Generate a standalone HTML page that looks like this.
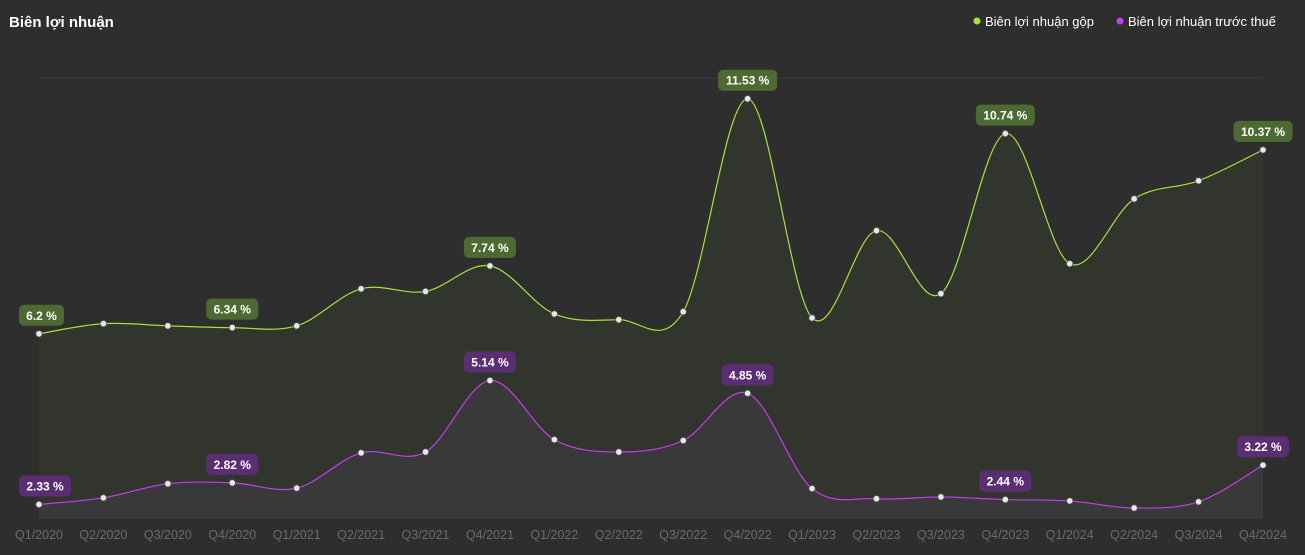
<!DOCTYPE html>
<html><head><meta charset="utf-8">
<style>
html,body{margin:0;padding:0;background:#2e2e2e;}
body{width:1305px;height:550px;overflow:hidden;font-family:"Liberation Sans","Noto Sans CJK SC",sans-serif;}
svg text{font-family:"Liberation Sans","Noto Sans CJK SC",sans-serif;}
</style></head>
<body>
<svg id="chart" width="1305" height="550" viewBox="0 0 1305 550" xmlns="http://www.w3.org/2000/svg">
<rect width="1305" height="550" fill="#2e2e2e"/>
<text x="9" y="27" fill="#ffffff" font-size="15" font-weight="bold">Biên lợi nhuận</text>
<g>
<circle cx="977" cy="21" r="3.5" fill="#a6e23a"/>
<text x="985" y="26" fill="#ffffff" font-size="13">Biên lợi nhuận gộp</text>
<circle cx="1120" cy="21" r="3.5" fill="#c63cf0"/>
<text x="1128" y="26" fill="#ffffff" font-size="13">Biên lợi nhuận trước thuế</text>
</g>
<line x1="39" y1="78" x2="1263" y2="78" stroke="#3c3c3c" stroke-width="1"/>
<g id="plot"></g>
</svg>
<script>
const categories = ["Q1/2020","Q2/2020","Q3/2020","Q4/2020","Q1/2021","Q2/2021","Q3/2021","Q4/2021","Q1/2022","Q2/2022","Q3/2022","Q4/2022","Q1/2023","Q2/2023","Q3/2023","Q4/2023","Q1/2024","Q2/2024","Q3/2024","Q4/2024"];
const grossMargin = [6.2,6.43,6.38,6.34,6.38,7.22,7.16,7.74,6.65,6.52,6.70,11.53,6.56,8.54,7.11,10.74,7.79,9.26,9.67,10.37];
const pretaxMargin = [2.33,2.48,2.80,2.82,2.70,3.50,3.52,5.14,3.80,3.52,3.78,4.85,2.69,2.46,2.50,2.44,2.41,2.25,2.39,3.22];
const labeledIdx = [0,3,7,11,15,19];
const yMin = 2, yMax = 12;

const X0=39, X1=1263, YT=78, YB=519;
const xs = i => X0 + (X1-X0)*i/(categories.length-1);
const ys = v => YB - (v-yMin)/(yMax-yMin)*(YB-YT);
const NS="http://www.w3.org/2000/svg";
const plot=document.getElementById('plot');
function mk(tag,attrs){const e=document.createElementNS(NS,tag);for(const k in attrs)e.setAttribute(k,attrs[k]);return e;}
function curve(pts){
  let d=`M${pts[0][0]},${pts[0][1]}`;
  for(let i=0;i<pts.length-1;i++){
    const p0=pts[Math.max(0,i-1)],p1=pts[i],p2=pts[i+1],p3=pts[Math.min(pts.length-1,i+2)];
    const t=0.5/3*2;
    const c1=[p1[0]+(p2[0]-p0[0])*t/2,p1[1]+(p2[1]-p0[1])*t/2];
    const c2=[p2[0]-(p3[0]-p1[0])*t/2,p2[1]-(p3[1]-p1[1])*t/2];
    d+=` C${c1[0]},${c1[1]} ${c2[0]},${c2[1]} ${p2[0]},${p2[1]}`;
  }
  return d;
}
function series(vals,color,fill,lblBg,name){
  const pts=vals.map((v,i)=>[xs(i),ys(v)]);
  const d=curve(pts);
  const area=mk('path',{d:d+` L${X1},${YB} L${X0},${YB} Z`,fill:fill});
  
  
  plot.appendChild(area);
  const line=mk('path',{d:d,fill:'none',stroke:color,'stroke-width':1.2});
  
  
  plot.appendChild(line);
  return pts;
}
const gp=series(grossMargin,'#a6e23a','rgba(120,160,60,0.07)','#4e6a33','gross-margin');
const pp=series(pretaxMargin,'#c63cf0','rgba(120,90,140,0.12)','#5b2e74','pretax-margin');
function points(pts,vals,bg,name){
  pts.forEach((p,i)=>{
    const c=mk('circle',{cx:p[0],cy:p[1],r:3.2,fill:'#e8e8e8',stroke:'#555','stroke-width':0.8});
    
    
    plot.appendChild(c);
  });
  labeledIdx.forEach(i=>{
    const txt=vals[i]+' %';
    const w=txt.length*7+10;
    let cx=pts[i][0];
    cx=Math.max(X0-20+w/2,Math.min(1300-w/2,cx));
    const g=mk('g',{});
    
    
    g.appendChild(mk('rect',{x:cx-w/2,y:pts[i][1]-29,width:w,height:21,rx:5,fill:bg}));
    const t=mk('text',{x:cx,y:pts[i][1]-14,'text-anchor':'middle',fill:'#fff','font-size':12,'font-weight':'bold'});
    t.textContent=txt;g.appendChild(t);
    plot.appendChild(g);
  });
}
points(gp,grossMargin,'#4e6a33','gross-margin');
points(pp,pretaxMargin,'#5b2e74','pretax-margin');
categories.forEach((c,i)=>{
  const t=mk('text',{x:xs(i),y:539,'text-anchor':'middle',fill:'#6a6a6a','font-size':12.5});
  
  
  t.textContent=c;plot.appendChild(t);
});
</script>
</body></html>
